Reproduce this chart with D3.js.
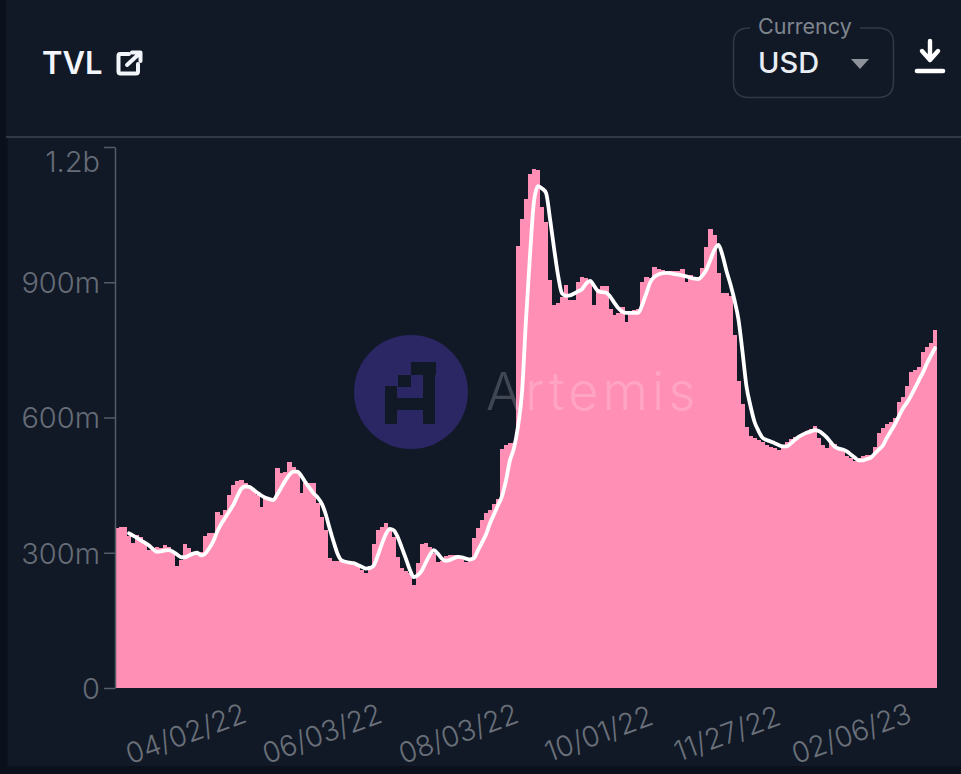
<!DOCTYPE html>
<html><head><meta charset="utf-8">
<script src="https://cdn.jsdelivr.net/npm/d3@7"></script>
<style>html,body{margin:0;padding:0;background:#0b111c;overflow:hidden}svg{display:block;font-family:Inter,"Noto Sans",sans-serif}</style>
</head><body><svg id="c" width="961" height="774"></svg>
<script>
const tvlValues=[355,357,357,338,322,340,335,320,305,305,313,311,317,313,300,270,284,320,311,302,302,302,337,344,344,391,384,395,428,450,459,462,455,446,436,428,402,422,422,422,488,477,480,501,490,477,433,455,455,455,410,380,350,288,282,282,282,280,280,277,272,262,255,270,320,350,357,366,355,335,290,266,260,255,229,277,320,322,313,300,280,282,292,295,295,295,292,280,285,333,355,372,388,395,408,420,530,539,544,544,980,1040,1085,1140,1152,1149,1067,1034,905,850,855,868,894,861,860,901,912,910,905,850,885,892,892,840,828,832,845,812,834,838,841,901,912,910,934,930,928,923,925,925,925,930,901,915,912,912,932,979,1019,1005,920,876,876,870,783,680,630,580,558,555,550,546,540,535,532,528,540,546,552,557,560,566,570,575,581,555,540,533,544,542,535,530,515,510,504,510,515,517,517,535,565,577,585,590,600,635,645,670,700,705,712,745,757,765,794];
// moving average, first bars have no value yet
const maValues=[null,null,null,343,338,333,327,322,316,308,302,303,305,306,302,296,290,290,294,298,300,294,298,310,325,347,364,378,392,406,425,442,447,446,440,433,427,422,419,417,430,445,460,473,480,480,470,456,444,432,423,410,387,355,325,298,283,280,278,277,273,269,265,266,271,293,318,340,353,350,335,312,288,263,246,250,260,278,295,306,298,287,282,284,288,291,290,287,285,288,305,322,340,365,385,405,425,460,505,532,580,655,817,960,1080,1113,1108,1098,1040,975,915,875,870,871,875,880,885,897,903,892,880,878,877,868,855,843,835,832,832,832,832,850,875,900,912,917,920,921,920,918,917,915,913,910,908,907,915,928,950,972,983,960,925,895,860,817,745,668,625,590,570,555,550,547,543,539,536,536,542,550,557,562,566,569,572,570,564,556,545,535,531,529,525,518,511,505,505,508,511,520,529,538,555,570,585,603,620,633,648,665,683,700,720,737,754];
const dayLabels=["04/02/22","06/03/22","08/03/22","10/01/22","11/27/22","02/06/23"];
const dayBarIndex=[17,51,85,120,152,183];
const yTicks=[0,300,600,900,1200];
const yTickLabels=["0","300m","600m","900m","1.2b"];
const maxIdx=tvlValues.length;

const svg=d3.select("#c");
svg.append("rect").attr("x",6).attr("y",0).attr("width",955).attr("height",766).attr("fill","#111927");
svg.append("rect").attr("x",6).attr("y",136).attr("width",955).attr("height",2).attr("fill","#323944");
svg.append("rect").attr("x",6).attr("y",138).attr("width",1.5).attr("height",628).attr("fill","#0b111c");

const x=d3.scaleBand().domain(d3.range(maxIdx)).range([115,937]).padding(0);
const y=d3.scaleLinear().domain([0,1200]).range([688,147]);

// Watermark logo
svg.append("circle").attr("cx",411).attr("cy",392).attr("r",57).attr("fill","#2b2664");
const logoCells=[[385,386,12,38],[398,375,13,12],[411,362,25,13],[423,362,12,62],[397,398,26,12]];
svg.selectAll("rect.l").data(logoCells).join("rect").attr("class","l")
 .attr("x",d=>d[0]).attr("y",d=>d[1]).attr("width",d=>d[2]).attr("height",d=>d[3]).attr("fill","#111927");

// bars
svg.append("g").attr("shape-rendering","crispEdges").selectAll("rect").data(tvlValues).join("rect")
 .attr("x",(d,i)=>x(i)).attr("width",x.bandwidth()+0.3)
 .attr("y",d=>y(d)).attr("height",d=>y(0)-y(d)).attr("fill","#ff8fb4");

// watermark word
svg.append("text").attr("x",486).attr("y",410).attr("font-size",52).attr("font-weight",300)
 .attr("letter-spacing",4.2).attr("fill","#ffffff").attr("fill-opacity",0.2).text("Artemis");

// line
const line=d3.line().defined(d=>d!=null).x((d,i)=>x(i)+x.bandwidth()/2).y(d=>y(d)).curve(d3.curveMonotoneX);
svg.append("path").datum(maValues).attr("d",line).attr("fill","none").attr("stroke","#fff").attr("stroke-width",3.8).attr("stroke-linecap","round");

// y axis
const yAxis=d3.axisLeft(y).tickValues(yTicks).tickFormat((d,i)=>yTickLabels[i]).tickSize(11).tickSizeOuter(0).tickPadding(4);
const gy=svg.append("g").attr("transform","translate(115,0)").call(yAxis);
gy.select(".domain").attr("stroke","#555c66").attr("stroke-width",1.5);
gy.selectAll(".tick line").attr("stroke","#555c66").attr("stroke-width",1.5);
gy.selectAll(".tick text").attr("fill","#666c76").attr("font-size",29).attr("font-weight",300).attr("font-family","Inter")
 .attr("dy",d=>d===1200?"0.83em":"0.36em");

// x labels
const gx=svg.append("g");
gx.selectAll("text").data(dayLabels).join("text")
 .attr("text-anchor","middle").attr("fill","#6a7079").attr("font-size",28.5).attr("font-weight",300)
 .attr("transform",(d,i)=>`translate(${x(dayBarIndex[i])+x.bandwidth()/2+4},743) rotate(-20)`)
 .text(d=>d);

// Header
svg.append("text").attr("x",42).attr("y",74).attr("font-size",31).attr("font-weight",600).attr("fill","#f2f5fa").text("TVL");
const ic=svg.append("g").attr("fill","none").attr("stroke","#f2f5fa").attr("stroke-width",4).attr("stroke-linecap","round").attr("stroke-linejoin","round");
ic.append("path").attr("d","M129 54H120Q118.5 54 118.5 56V71.5Q118.5 73.5 120.5 73.5H136Q138 73.5 138 71.5V64");
ic.append("path").attr("d","M127 65L140 53M132 52.5H140.5V61");

svg.append("path").attr("d","M750 28H749Q733.5 28 733.5 43V82Q733.5 97.5 749 97.5H878Q893.5 97.5 893.5 82V43Q893.5 28 878 28H860")
 .attr("fill","none").attr("stroke","#303843").attr("stroke-width",1.6);
svg.append("text").attr("x",758).attr("y",34).attr("font-size",21.5).attr("fill","#7f858e").text("Currency");
svg.append("text").attr("x",758).attr("y",73).attr("font-size",29).attr("font-weight",500).attr("fill","#e8ecf3").text("USD");
svg.append("path").attr("d","M851 59H869L860 69Z").attr("fill","#8d9199");
svg.append("path").attr("d","M930 41V58M922 51L930 60L938 51").attr("fill","none").attr("stroke","#fff").attr("stroke-width",4.4).attr("stroke-linecap","round").attr("stroke-linejoin","round");
svg.append("path").attr("d","M917 71H943").attr("stroke","#fff").attr("stroke-width",4.6).attr("stroke-linecap","round");
</script></body></html>
